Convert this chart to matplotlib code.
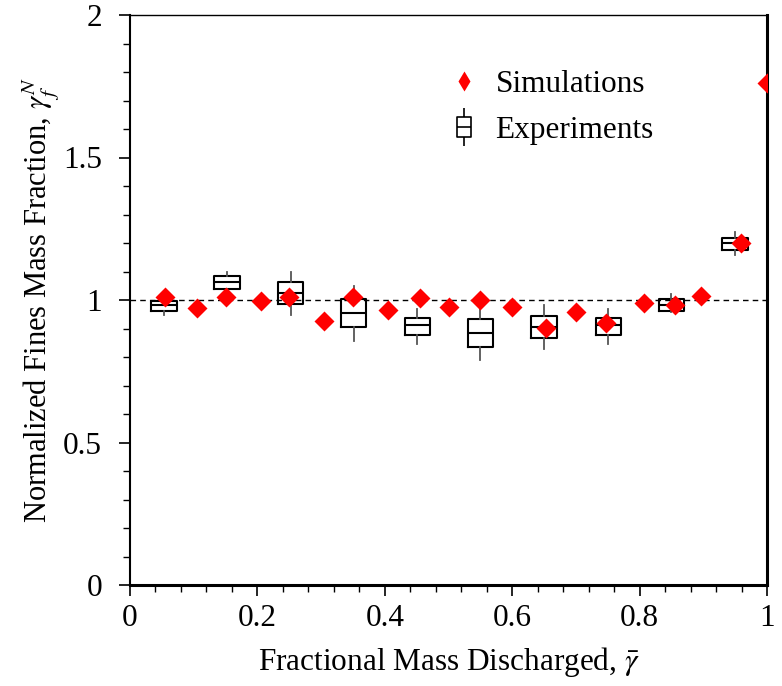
import matplotlib
matplotlib.use("Agg")
import matplotlib.pyplot as plt
from matplotlib.path import Path
from matplotlib.lines import Line2D
from matplotlib.ticker import MultipleLocator

plt.rcParams["font.family"] = ["Liberation Serif", "DejaVu Serif"]
plt.rcParams["mathtext.fontset"] = "stix"

# simulaciones
sim_x = [0.055, 0.105, 0.15, 0.205, 0.25, 0.305, 0.35, 0.405, 0.455, 0.50,
         0.55, 0.60, 0.653, 0.70, 0.748, 0.807, 0.856, 0.896, 0.959, 1.0]
sim_y = [1.012, 0.971, 1.012, 0.996, 1.012, 0.927, 1.012, 0.965, 1.006, 0.974,
         1.0, 0.974, 0.903, 0.959, 0.920, 0.988, 0.982, 1.015, 1.199, 1.761]

# experimentos (cajas)
exp_x = [0.053, 0.152, 0.252, 0.351, 0.451, 0.550, 0.650, 0.751, 0.850, 0.950]
exp_q1 = [0.962, 1.039, 0.986, 0.904, 0.877, 0.834, 0.866, 0.877, 0.963, 1.177]
exp_med = [0.981, 1.062, 1.023, 0.955, 0.912, 0.883, 0.906, 0.911, 0.982, 1.199]
exp_q3 = [0.996, 1.084, 1.062, 1.002, 0.938, 0.932, 0.944, 0.938, 1.002, 1.216]
exp_lo = [0.947, 1.023, 0.947, 0.857, 0.846, 0.789, 0.828, 0.846, 0.959, 1.158]
exp_hi = [1.012, 1.099, 1.099, 1.049, 0.967, 0.967, 0.982, 0.967, 1.020, 1.240]

FS = 22.5

fig = plt.figure(figsize=(7.82, 6.86), dpi=100)
ax = fig.add_axes([130 / 782, 1 - 585 / 686, 637 / 782, 570 / 686])

ax.axhline(1.0, color="black", ls=(0, (4, 3)), lw=1.0, zorder=1)

stats = []
for q1, med, q3, lo, hi in zip(exp_q1, exp_med, exp_q3, exp_lo, exp_hi):
    stats.append({"q1": q1, "med": med, "q3": q3, "whislo": lo, "whishi": hi, "fliers": []})

ax.bxp(stats, positions=exp_x, widths=0.04, showcaps=False, showfliers=False,
       manage_ticks=False,
       boxprops=dict(color="black", lw=1.5),
       medianprops=dict(color="black", lw=1.5),
       whiskerprops=dict(color="#555555", lw=1.3),
       zorder=2)

ax.plot(sim_x, sim_y, ls="none", marker="D", ms=10.5, color="red", mec="none", zorder=3)

ax.set_xlim(0, 1)
ax.set_ylim(0, 2)
ax.xaxis.set_minor_locator(MultipleLocator(0.04))
ax.yaxis.set_minor_locator(MultipleLocator(0.1))
ax.set_xticks([0, 0.2, 0.4, 0.6, 0.8, 1.0])
ax.set_xticklabels(["0", "0.2", "0.4", "0.6", "0.8", "1"])
ax.set_yticks([0, 0.5, 1.0, 1.5, 2.0])
ax.set_yticklabels(["0", "0.5", "1", "1.5", "2"])
ax.tick_params(which="major", direction="out", length=8, width=1.2, labelsize=FS)
ax.tick_params(axis="x", which="major", pad=6)
ax.tick_params(axis="y", which="major", pad=12)
ax.tick_params(which="minor", direction="out", length=5, width=1.0)

ax.spines["top"].set_linewidth(1.0)
ax.spines["left"].set_linewidth(1.5)
ax.spines["bottom"].set_linewidth(2.2)
ax.spines["right"].set_linewidth(2.2)

ax.set_xlabel(r"Fractional Mass Discharged, $\bar{\gamma}$", fontsize=FS, labelpad=8)
ax.set_ylabel(r"Normalized Fines Mass Fraction, $\gamma_f^N$", fontsize=22, labelpad=1)

# icono de caja para la leyenda
box_verts = [(-0.35, -0.55), (0.35, -0.55), (0.35, 0.55), (-0.35, 0.55), (-0.35, -0.55),
             (-0.35, 0.0), (0.35, 0.0),
             (0.0, 0.55), (0.0, 1.0),
             (0.0, -0.55), (0.0, -1.0)]
box_codes = [Path.MOVETO, Path.LINETO, Path.LINETO, Path.LINETO, Path.CLOSEPOLY,
             Path.MOVETO, Path.LINETO,
             Path.MOVETO, Path.LINETO,
             Path.MOVETO, Path.LINETO]
box_marker = Path(box_verts, box_codes)

handles = [
    Line2D([], [], ls="none", marker="d", ms=10, color="red", mec="none"),
    Line2D([], [], ls="none", marker=box_marker, ms=27, mfc="none", mec="black", mew=1.2),
]
ax.legend(handles, ["Simulations", "Experiments"], loc="upper left",
          bbox_to_anchor=(0.451, 0.953), frameon=False, fontsize=FS,
          handletextpad=0.4, labelspacing=0.55, handlelength=1.2)

fig.savefig("out.png", dpi=100)
